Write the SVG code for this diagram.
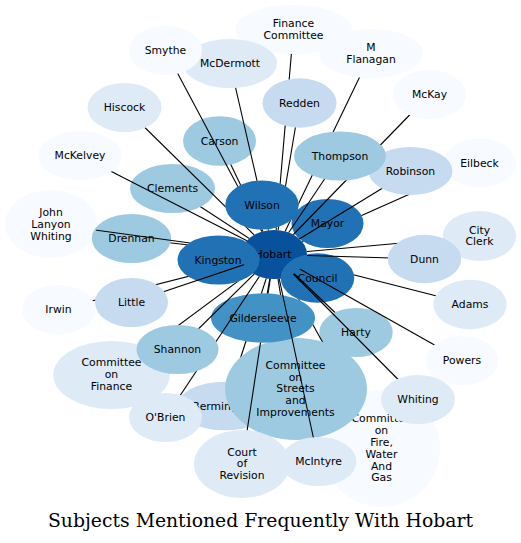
<svg xmlns="http://www.w3.org/2000/svg" width="521" height="543" viewBox="0 0 521 543">
<style>
.c1{fill:#f7fbff}.c2{fill:#deebf7}.c3{fill:#c6dbef}.c4{fill:#9ecae1}.c6{fill:#4292c6}.c7{fill:#2171b5}.c8{fill:#08519c}
.lbl{fill:#000;font-family:"DejaVu Sans",Verdana,sans-serif;font-size:10.8px;text-anchor:middle}
#connectors line{stroke:#000;stroke-width:1.1}
.title{font-family:"DejaVu Serif",serif;font-size:18.8px;text-anchor:middle;fill:#000}
</style>
<defs>
<mask id="m-smythe" maskUnits="userSpaceOnUse" x="0" y="0" width="521" height="543"><rect width="521" height="543" fill="#fff"/><use href="#e-hobart" fill="#000"/><use href="#e-smythe" fill="#000"/><use href="#e-wilson" fill="#000"/></mask>
<mask id="m-mcdermott" maskUnits="userSpaceOnUse" x="0" y="0" width="521" height="543"><rect width="521" height="543" fill="#fff"/><use href="#e-hobart" fill="#000"/><use href="#e-mcdermott" fill="#000"/><use href="#e-wilson" fill="#000"/></mask>
<mask id="m-fc" maskUnits="userSpaceOnUse" x="0" y="0" width="521" height="543"><rect width="521" height="543" fill="#fff"/><use href="#e-hobart" fill="#000"/><use href="#e-fc" fill="#000"/><use href="#e-redden" fill="#000"/><use href="#e-wilson" fill="#000"/></mask>
<mask id="m-redden" maskUnits="userSpaceOnUse" x="0" y="0" width="521" height="543"><rect width="521" height="543" fill="#fff"/><use href="#e-hobart" fill="#000"/><use href="#e-redden" fill="#000"/><use href="#e-wilson" fill="#000"/></mask>
<mask id="m-carson" maskUnits="userSpaceOnUse" x="0" y="0" width="521" height="543"><rect width="521" height="543" fill="#fff"/><use href="#e-hobart" fill="#000"/><use href="#e-carson" fill="#000"/><use href="#e-wilson" fill="#000"/></mask>
<mask id="m-hiscock" maskUnits="userSpaceOnUse" x="0" y="0" width="521" height="543"><rect width="521" height="543" fill="#fff"/><use href="#e-hobart" fill="#000"/><use href="#e-hiscock" fill="#000"/><use href="#e-wilson" fill="#000"/></mask>
<mask id="m-mckelvey" maskUnits="userSpaceOnUse" x="0" y="0" width="521" height="543"><rect width="521" height="543" fill="#fff"/><use href="#e-hobart" fill="#000"/><use href="#e-mckelvey" fill="#000"/></mask>
<mask id="m-clements" maskUnits="userSpaceOnUse" x="0" y="0" width="521" height="543"><rect width="521" height="543" fill="#fff"/><use href="#e-hobart" fill="#000"/><use href="#e-clements" fill="#000"/></mask>
<mask id="m-jlw" maskUnits="userSpaceOnUse" x="0" y="0" width="521" height="543"><rect width="521" height="543" fill="#fff"/><use href="#e-hobart" fill="#000"/><use href="#e-jlw" fill="#000"/><use href="#e-kingston" fill="#000"/></mask>
<mask id="m-drennan" maskUnits="userSpaceOnUse" x="0" y="0" width="521" height="543"><rect width="521" height="543" fill="#fff"/><use href="#e-hobart" fill="#000"/><use href="#e-drennan" fill="#000"/><use href="#e-kingston" fill="#000"/></mask>
<mask id="m-irwin" maskUnits="userSpaceOnUse" x="0" y="0" width="521" height="543"><rect width="521" height="543" fill="#fff"/><use href="#e-hobart" fill="#000"/><use href="#e-irwin" fill="#000"/><use href="#e-little" fill="#000"/><use href="#e-kingston" fill="#000"/></mask>
<mask id="m-little" maskUnits="userSpaceOnUse" x="0" y="0" width="521" height="543"><rect width="521" height="543" fill="#fff"/><use href="#e-hobart" fill="#000"/><use href="#e-little" fill="#000"/></mask>
<mask id="m-cof" maskUnits="userSpaceOnUse" x="0" y="0" width="521" height="543"><rect width="521" height="543" fill="#fff"/><use href="#e-hobart" fill="#000"/><use href="#e-cof" fill="#000"/><use href="#e-shannon" fill="#000"/><use href="#e-kingston" fill="#000"/></mask>
<mask id="m-shannon" maskUnits="userSpaceOnUse" x="0" y="0" width="521" height="543"><rect width="521" height="543" fill="#fff"/><use href="#e-hobart" fill="#000"/><use href="#e-shannon" fill="#000"/></mask>
<mask id="m-obrien" maskUnits="userSpaceOnUse" x="0" y="0" width="521" height="543"><rect width="521" height="543" fill="#fff"/><use href="#e-hobart" fill="#000"/><use href="#e-obrien" fill="#000"/><use href="#e-shannon" fill="#000"/></mask>
<mask id="m-bermingham" maskUnits="userSpaceOnUse" x="0" y="0" width="521" height="543"><rect width="521" height="543" fill="#fff"/><use href="#e-hobart" fill="#000"/><use href="#e-bermingham" fill="#000"/><use href="#e-cos" fill="#000"/><use href="#e-gildersleeve" fill="#000"/></mask>
<mask id="m-court" maskUnits="userSpaceOnUse" x="0" y="0" width="521" height="543"><rect width="521" height="543" fill="#fff"/><use href="#e-hobart" fill="#000"/><use href="#e-court" fill="#000"/><use href="#e-gildersleeve" fill="#000"/></mask>
<mask id="m-cos" maskUnits="userSpaceOnUse" x="0" y="0" width="521" height="543"><rect width="521" height="543" fill="#fff"/><use href="#e-hobart" fill="#000"/><use href="#e-cos" fill="#000"/><use href="#e-gildersleeve" fill="#000"/></mask>
<mask id="m-mcintyre" maskUnits="userSpaceOnUse" x="0" y="0" width="521" height="543"><rect width="521" height="543" fill="#fff"/><use href="#e-hobart" fill="#000"/><use href="#e-mcintyre" fill="#000"/></mask>
<mask id="m-cofire" maskUnits="userSpaceOnUse" x="0" y="0" width="521" height="543"><rect width="521" height="543" fill="#fff"/><use href="#e-hobart" fill="#000"/><use href="#e-cofire" fill="#000"/><use href="#e-cos" fill="#000"/><use href="#e-gildersleeve" fill="#000"/><use href="#e-council" fill="#000"/></mask>
<mask id="m-harty" maskUnits="userSpaceOnUse" x="0" y="0" width="521" height="543"><rect width="521" height="543" fill="#fff"/><use href="#e-hobart" fill="#000"/><use href="#e-harty" fill="#000"/></mask>
<mask id="m-whiting" maskUnits="userSpaceOnUse" x="0" y="0" width="521" height="543"><rect width="521" height="543" fill="#fff"/><use href="#e-hobart" fill="#000"/><use href="#e-whiting" fill="#000"/></mask>
<mask id="m-powers" maskUnits="userSpaceOnUse" x="0" y="0" width="521" height="543"><rect width="521" height="543" fill="#fff"/><use href="#e-hobart" fill="#000"/><use href="#e-powers" fill="#000"/></mask>
<mask id="m-adams" maskUnits="userSpaceOnUse" x="0" y="0" width="521" height="543"><rect width="521" height="543" fill="#fff"/><use href="#e-hobart" fill="#000"/><use href="#e-adams" fill="#000"/><use href="#e-council" fill="#000"/></mask>
<mask id="m-dunn" maskUnits="userSpaceOnUse" x="0" y="0" width="521" height="543"><rect width="521" height="543" fill="#fff"/><use href="#e-hobart" fill="#000"/><use href="#e-dunn" fill="#000"/></mask>
<mask id="m-cityclerk" maskUnits="userSpaceOnUse" x="0" y="0" width="521" height="543"><rect width="521" height="543" fill="#fff"/><use href="#e-hobart" fill="#000"/><use href="#e-cityclerk" fill="#000"/><use href="#e-dunn" fill="#000"/></mask>
<mask id="m-eilbeck" maskUnits="userSpaceOnUse" x="0" y="0" width="521" height="543"><rect width="521" height="543" fill="#fff"/><use href="#e-hobart" fill="#000"/><use href="#e-eilbeck" fill="#000"/><use href="#e-robinson" fill="#000"/><use href="#e-mayor" fill="#000"/></mask>
<mask id="m-robinson" maskUnits="userSpaceOnUse" x="0" y="0" width="521" height="543"><rect width="521" height="543" fill="#fff"/><use href="#e-hobart" fill="#000"/><use href="#e-robinson" fill="#000"/></mask>
<mask id="m-thompson" maskUnits="userSpaceOnUse" x="0" y="0" width="521" height="543"><rect width="521" height="543" fill="#fff"/><use href="#e-hobart" fill="#000"/><use href="#e-thompson" fill="#000"/></mask>
<mask id="m-mckay" maskUnits="userSpaceOnUse" x="0" y="0" width="521" height="543"><rect width="521" height="543" fill="#fff"/><use href="#e-hobart" fill="#000"/><use href="#e-mckay" fill="#000"/><use href="#e-thompson" fill="#000"/></mask>
<mask id="m-mflanagan" maskUnits="userSpaceOnUse" x="0" y="0" width="521" height="543"><rect width="521" height="543" fill="#fff"/><use href="#e-hobart" fill="#000"/><use href="#e-mflanagan" fill="#000"/><use href="#e-thompson" fill="#000"/><use href="#e-wilson" fill="#000"/></mask>
<mask id="m-gildersleeve" maskUnits="userSpaceOnUse" x="0" y="0" width="521" height="543"><rect width="521" height="543" fill="#fff"/><use href="#e-hobart" fill="#000"/><use href="#e-gildersleeve" fill="#000"/></mask>
</defs>
<rect width="521" height="543" fill="#fff"/>
<g id="nodes">
<g id="node-hobart" class="c8"><ellipse id="e-hobart" cx="274" cy="254.5" rx="33" ry="24.5"/><text class="lbl" x="273" y="258.4">Hobart</text></g>
<g id="node-carson" class="c4"><ellipse id="e-carson" cx="219.5" cy="141" rx="36.5" ry="24.8"/><text class="lbl" x="219.5" y="144.9">Carson</text></g>
<g id="node-clements" class="c4"><ellipse id="e-clements" cx="172.5" cy="188.5" rx="42.5" ry="24.5"/><text class="lbl" x="172.5" y="192.4">Clements</text></g>
<g id="node-jlw" class="c1"><ellipse id="e-jlw" cx="51" cy="224" rx="46" ry="34"/><text class="lbl" x="51" y="216.1">John</text><text class="lbl" x="51" y="227.9">Lanyon</text><text class="lbl" x="51" y="239.7">Whiting</text></g>
<g id="node-drennan" class="c4"><ellipse id="e-drennan" cx="131.5" cy="238.5" rx="39.7" ry="24.5"/><text class="lbl" x="131.5" y="242.4">Drennan</text></g>
<g id="node-adams" class="c2"><ellipse id="e-adams" cx="470" cy="304.5" rx="36.7" ry="24.7"/><text class="lbl" x="470" y="308.4">Adams</text></g>
<g id="node-cofire" class="c1"><ellipse id="e-cofire" cx="381.5" cy="448.5" rx="58.5" ry="58.5"/><text class="lbl" x="381.5" y="422.4">Committee</text><text class="lbl" x="381.5" y="434.2">on</text><text class="lbl" x="381.5" y="446">Fire,</text><text class="lbl" x="381.5" y="457.8">Water</text><text class="lbl" x="381.5" y="469.6">And</text><text class="lbl" x="381.5" y="481.4">Gas</text></g>
<g id="node-bermingham" class="c3"><ellipse id="e-bermingham" cx="225" cy="406" rx="48" ry="24.3"/><text class="lbl" x="227" y="409.9">Bermingham</text></g>
<g id="node-eilbeck" class="c1"><ellipse id="e-eilbeck" cx="479.5" cy="163" rx="36.5" ry="24.5"/><text class="lbl" x="479.5" y="166.9">Eilbeck</text></g>
<g id="node-mayor" class="c7"><ellipse id="e-mayor" cx="327.5" cy="223.5" rx="36" ry="24.5"/><text class="lbl" x="327.5" y="227.4">Mayor</text></g>
<g id="node-cityclerk" class="c2"><ellipse id="e-cityclerk" cx="479.5" cy="236" rx="36.7" ry="25"/><text class="lbl" x="479.5" y="233.5">City</text><text class="lbl" x="479.5" y="245.3">Clerk</text></g>
<g id="node-council" class="c7"><ellipse id="e-council" cx="317.5" cy="278" rx="36.8" ry="24.7"/><text class="lbl" x="317.5" y="281.9">Council</text></g>
<g id="node-dunn" class="c3"><ellipse id="e-dunn" cx="424.5" cy="259" rx="36.7" ry="24.2"/><text class="lbl" x="424.5" y="262.9">Dunn</text></g>
<g id="node-harty" class="c4"><ellipse id="e-harty" cx="356" cy="332.5" rx="36.7" ry="24.5"/><text class="lbl" x="356" y="336.4">Harty</text></g>
<g id="node-whiting" class="c2"><ellipse id="e-whiting" cx="418" cy="399.5" rx="37" ry="24.5"/><text class="lbl" x="418" y="403.4">Whiting</text></g>
<g id="node-powers" class="c1"><ellipse id="e-powers" cx="462" cy="360.5" rx="36.3" ry="24.5"/><text class="lbl" x="462" y="364.4">Powers</text></g>
<g id="node-cos" class="c4"><ellipse id="e-cos" cx="296" cy="389" rx="71" ry="51"/><text class="lbl" x="295.5" y="368.8">Committee</text><text class="lbl" x="295.5" y="380.6">on</text><text class="lbl" x="295.5" y="392.4">Streets</text><text class="lbl" x="295.5" y="404.2">and</text><text class="lbl" x="295.5" y="416">Improvements</text></g>
<g id="node-court" class="c2"><ellipse id="e-court" cx="242" cy="464" rx="48" ry="34"/><text class="lbl" x="242" y="455.6">Court</text><text class="lbl" x="242" y="467.4">of</text><text class="lbl" x="242" y="479.2">Revision</text></g>
<g id="node-gildersleeve" class="c6"><ellipse id="e-gildersleeve" cx="263" cy="318" rx="52" ry="24.7"/><text class="lbl" x="263" y="321.9">Gildersleeve</text></g>
<g id="node-mcintyre" class="c2"><ellipse id="e-mcintyre" cx="318.5" cy="461.5" rx="38" ry="24.5"/><text class="lbl" x="318.5" y="465.4">McIntyre</text></g>
<g id="node-cof" class="c2"><ellipse id="e-cof" cx="111.5" cy="375" rx="58.3" ry="34"/><text class="lbl" x="111.5" y="366.4">Committee</text><text class="lbl" x="111.5" y="378.2">on</text><text class="lbl" x="111.5" y="390">Finance</text></g>
<g id="node-obrien" class="c2"><ellipse id="e-obrien" cx="165.5" cy="417.5" rx="36.5" ry="24.5"/><text class="lbl" x="165.5" y="421.4">O'Brien</text></g>
<g id="node-shannon" class="c4"><ellipse id="e-shannon" cx="177.5" cy="349.5" rx="41" ry="24.5"/><text class="lbl" x="177.5" y="353.4">Shannon</text></g>
<g id="node-irwin" class="c1"><ellipse id="e-irwin" cx="58.5" cy="309.5" rx="36.7" ry="24.5"/><text class="lbl" x="58.5" y="313.4">Irwin</text></g>
<g id="node-kingston" class="c7"><ellipse id="e-kingston" cx="218.5" cy="260" rx="41" ry="24.5"/><text class="lbl" x="218" y="263.9">Kingston</text></g>
<g id="node-little" class="c3"><ellipse id="e-little" cx="131.5" cy="302.5" rx="36.5" ry="24.5"/><text class="lbl" x="131.5" y="306.4">Little</text></g>
<g id="node-mckelvey" class="c1"><ellipse id="e-mckelvey" cx="80" cy="155.5" rx="42" ry="24.5"/><text class="lbl" x="80" y="159.4">McKelvey</text></g>
<g id="node-hiscock" class="c2"><ellipse id="e-hiscock" cx="124.5" cy="107.5" rx="37" ry="24.5"/><text class="lbl" x="124.5" y="111.4">Hiscock</text></g>
<g id="node-fc" class="c1"><ellipse id="e-fc" cx="293.5" cy="29.5" rx="58.5" ry="24.5"/><text class="lbl" x="293.5" y="27.2">Finance</text><text class="lbl" x="293.5" y="39">Committee</text></g>
<g id="node-mcdermott" class="c2"><ellipse id="e-mcdermott" cx="230" cy="63.5" rx="47" ry="24.5"/><text class="lbl" x="230" y="67.4">McDermott</text></g>
<g id="node-smythe" class="c1"><ellipse id="e-smythe" cx="165.5" cy="50.5" rx="36.5" ry="24.5"/><text class="lbl" x="165.5" y="54.4">Smythe</text></g>
<g id="node-redden" class="c3"><ellipse id="e-redden" cx="299.5" cy="103" rx="37" ry="24.7"/><text class="lbl" x="299.5" y="106.9">Redden</text></g>
<g id="node-mflanagan" class="c1"><ellipse id="e-mflanagan" cx="371" cy="53.5" rx="52" ry="24.5"/><text class="lbl" x="371" y="51.2">M</text><text class="lbl" x="371" y="63">Flanagan</text></g>
<g id="node-mckay" class="c1"><ellipse id="e-mckay" cx="429.5" cy="94.5" rx="36.7" ry="24.5"/><text class="lbl" x="429.5" y="98.4">McKay</text></g>
<g id="node-robinson" class="c3"><ellipse id="e-robinson" cx="410.5" cy="171" rx="42" ry="24"/><text class="lbl" x="410.5" y="174.9">Robinson</text></g>
<g id="node-thompson" class="c4"><ellipse id="e-thompson" cx="340" cy="156" rx="46" ry="24.5"/><text class="lbl" x="340" y="159.9">Thompson</text></g>
<g id="node-wilson" class="c7"><ellipse id="e-wilson" cx="262" cy="205" rx="36.7" ry="24.5"/><text class="lbl" x="262" y="208.9">Wilson</text></g>
</g>
<g id="connectors">
<line x1="165.5" y1="50.5" x2="274" y2="254.5" mask="url(#m-smythe)"/>
<line x1="230" y1="63.5" x2="274" y2="254.5" mask="url(#m-mcdermott)"/>
<line x1="293.5" y1="29.5" x2="274" y2="254.5" mask="url(#m-fc)"/>
<line x1="299.5" y1="103" x2="274" y2="254.5" mask="url(#m-redden)"/>
<line x1="219.5" y1="141" x2="274" y2="254.5" mask="url(#m-carson)"/>
<line x1="124.5" y1="107.5" x2="274" y2="254.5" mask="url(#m-hiscock)"/>
<line x1="80" y1="155.5" x2="274" y2="254.5" mask="url(#m-mckelvey)"/>
<line x1="172.5" y1="188.5" x2="274" y2="254.5" mask="url(#m-clements)"/>
<line x1="51" y1="224" x2="274" y2="254.5" mask="url(#m-jlw)"/>
<line x1="131.5" y1="238.5" x2="274" y2="254.5" mask="url(#m-drennan)"/>
<line x1="58.5" y1="309.5" x2="274" y2="254.5" mask="url(#m-irwin)"/>
<line x1="131.5" y1="302.5" x2="274" y2="254.5" mask="url(#m-little)"/>
<line x1="111.5" y1="375" x2="274" y2="254.5" mask="url(#m-cof)"/>
<line x1="177.5" y1="349.5" x2="274" y2="254.5" mask="url(#m-shannon)"/>
<line x1="165.5" y1="417.5" x2="274" y2="254.5" mask="url(#m-obrien)"/>
<line x1="225" y1="406" x2="274" y2="254.5" mask="url(#m-bermingham)"/>
<line x1="242" y1="464" x2="274" y2="254.5" mask="url(#m-court)"/>
<line x1="296" y1="389" x2="274" y2="254.5" mask="url(#m-cos)"/>
<line x1="318.5" y1="461.5" x2="274" y2="254.5" mask="url(#m-mcintyre)"/>
<line x1="381.5" y1="448.5" x2="274" y2="254.5" mask="url(#m-cofire)"/>
<line x1="356" y1="332.5" x2="274" y2="254.5" mask="url(#m-harty)"/>
<line x1="418" y1="399.5" x2="274" y2="254.5" mask="url(#m-whiting)"/>
<line x1="462" y1="360.5" x2="274" y2="254.5" mask="url(#m-powers)"/>
<line x1="470" y1="304.5" x2="274" y2="254.5" mask="url(#m-adams)"/>
<line x1="424.5" y1="259" x2="274" y2="254.5" mask="url(#m-dunn)"/>
<line x1="479.5" y1="236" x2="274" y2="254.5" mask="url(#m-cityclerk)"/>
<line x1="479.5" y1="163" x2="274" y2="254.5" mask="url(#m-eilbeck)"/>
<line x1="410.5" y1="171" x2="274" y2="254.5" mask="url(#m-robinson)"/>
<line x1="340" y1="156" x2="274" y2="254.5" mask="url(#m-thompson)"/>
<line x1="429.5" y1="94.5" x2="274" y2="254.5" mask="url(#m-mckay)"/>
<line x1="371" y1="53.5" x2="274" y2="254.5" mask="url(#m-mflanagan)"/>
<line x1="263" y1="318" x2="274" y2="254.5" mask="url(#m-gildersleeve)"/>
</g>
<text class="title" x="260.5" y="527" textLength="425" lengthAdjust="spacingAndGlyphs">Subjects Mentioned Frequently With Hobart</text>
</svg>
